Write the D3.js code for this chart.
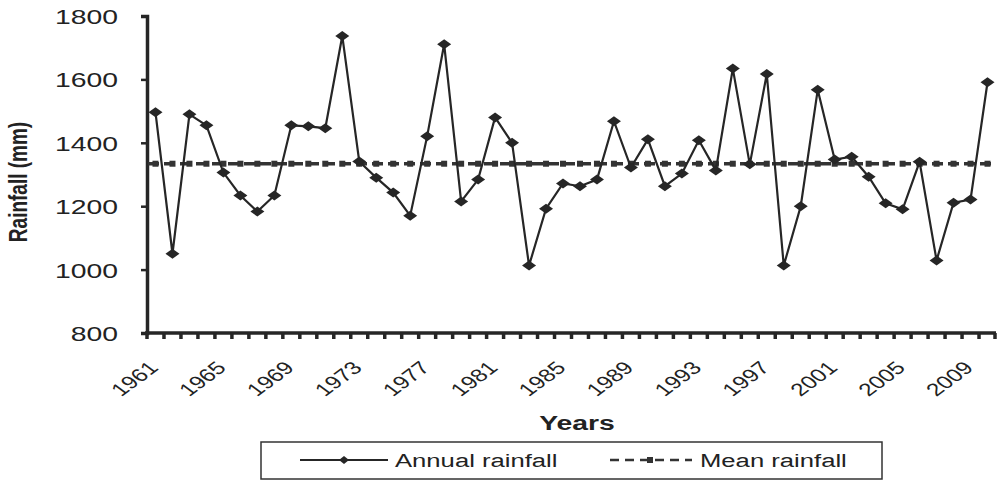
<!DOCTYPE html>
<html><head><meta charset="utf-8">
<script src="https://cdn.jsdelivr.net/npm/d3@7"></script>
<style>body{margin:0;background:#fff}svg{display:block}</style>
</head><body><svg id="c" width="997" height="480"></svg>
<script>
const years = d3.range(1961, 2011);
const annualRainfall = [1496,1050,1490,1455,1306,1234,1183,1234,1455,1452,
  1446,1737,1341,1290,1243,1170,1421,1711,1215,1284,
  1480,1400,1013,1192,1272,1263,1284,1468,1322,1411,
  1263,1303,1408,1313,1634,1332,1617,1013,1200,1567,
  1347,1356,1293,1209,1190,1340,1029,1211,1221,1591];
const meanRainfall = 1334;
const yTicks = [800,1000,1200,1400,1600,1800];
const xLabelYears = [1961,1965,1969,1973,1977,1981,1985,1989,1993,1997,2001,2005,2009];
const seriesNames = ["Annual rainfall","Mean rainfall"];

const svg = d3.select("#c");
const ink = "#262626";
const txt = "#222";
const FONT = "Liberation Sans, Arial, sans-serif";
const SX = 1.35; // horizontal stretch of the reference's text
const x = d3.scaleBand().domain(years).range([147, 996]);
const y = d3.scaleLinear().domain([800,1800]).range([333, 16]);
const cx = d => x(d) + x.bandwidth()/2;

// y axis
const ya = svg.append("g").attr("transform","translate(147,0)")
  .call(d3.axisLeft(y).tickValues(yTicks).tickSize(6).tickFormat(d3.format("d")));
ya.select(".domain").attr("stroke",ink).attr("stroke-width",3.5);
ya.selectAll(".tick line").attr("stroke",ink).attr("stroke-width",2.5);
ya.selectAll(".tick text").attr("x",null).attr("dy",null)
  .attr("transform",`translate(-29,7.5) scale(${SX},1)`)
  .attr("font-family",FONT).attr("font-size",21).attr("fill",txt);

// x axis
const xa = svg.append("g").attr("transform","translate(0,333)");
xa.append("line").attr("x1",145).attr("x2",996).attr("stroke",ink).attr("stroke-width",3.5);
xa.selectAll("line.tk").data(years.concat([2011])).enter().append("line").attr("class","tk")
  .attr("x1",d=> d===2011 ? 995 : x(d)).attr("x2",d=> d===2011 ? 995 : x(d))
  .attr("y1",0).attr("y2",6).attr("stroke",ink).attr("stroke-width",3.5);
xa.selectAll("text").data(xLabelYears).enter().append("text")
  .attr("transform",d=>`translate(${cx(d)+4},${36}) scale(${SX},1) rotate(-45)`)
  .attr("text-anchor","end").attr("font-family",FONT)
  .attr("font-size",18).attr("fill",txt).text(d=>d);

// titles
svg.append("text").attr("transform",`translate(27,182) scale(${SX},1) rotate(-90)`).attr("text-anchor","middle")
  .attr("font-family",FONT).attr("font-weight","bold")
  .attr("font-size",19).attr("fill",txt).text("Rainfall (mm)");
svg.append("text").attr("transform",`translate(577,430) scale(${SX},1)`).attr("text-anchor","middle")
  .attr("font-family",FONT).attr("font-weight","bold")
  .attr("font-size",21).attr("fill",txt).text("Years");

// mean line
svg.append("line").attr("x1",148).attr("x2",cx(2010)+4).attr("y1",y(meanRainfall)).attr("y2",y(meanRainfall))
  .attr("stroke","#333").attr("stroke-width",3.5).attr("stroke-dasharray","11,5");
svg.selectAll("rect.mm").data(years).enter().append("rect").attr("class","mm")
  .attr("x",d=>cx(d)-3).attr("y",y(meanRainfall)-3).attr("width",6).attr("height",6).attr("fill","#333");

// annual line
const line = d3.line().x((d,i)=>cx(years[i])).y(d=>y(d));
svg.append("path").datum(annualRainfall).attr("d",line).attr("fill","none").attr("stroke",ink).attr("stroke-width",2.2);
const diamond = "M-7,0L0,-5L7,0L0,5Z";
svg.selectAll("path.dm").data(annualRainfall).enter().append("path").attr("class","dm")
  .attr("transform",(d,i)=>`translate(${cx(years[i])},${y(d)})`).attr("d",diamond).attr("fill",ink);

// legend
const lg = svg.append("g");
lg.append("rect").attr("x",261).attr("y",442).attr("width",621).attr("height",37)
  .attr("fill","#fff").attr("stroke","#333").attr("stroke-width",1.5);
lg.append("line").attr("x1",300).attr("x2",388).attr("y1",460).attr("y2",460).attr("stroke",ink).attr("stroke-width",2);
lg.append("path").attr("transform","translate(344,460)").attr("d","M-5,0L0,-4L5,0L0,4Z").attr("fill",ink);
lg.append("text").attr("transform",`translate(395,467) scale(${SX},1)`).attr("font-family",FONT)
  .attr("font-size",19).attr("fill",txt).text(seriesNames[0]);
lg.append("line").attr("x1",610).attr("x2",692).attr("y1",460).attr("y2",460).attr("stroke","#333").attr("stroke-width",2.5).attr("stroke-dasharray","9,6");
lg.append("rect").attr("x",647).attr("y",457).attr("width",6).attr("height",6).attr("fill","#333");
lg.append("text").attr("transform",`translate(700,467) scale(${SX},1)`).attr("font-family",FONT)
  .attr("font-size",19).attr("fill",txt).text(seriesNames[1]);
</script></body></html>
